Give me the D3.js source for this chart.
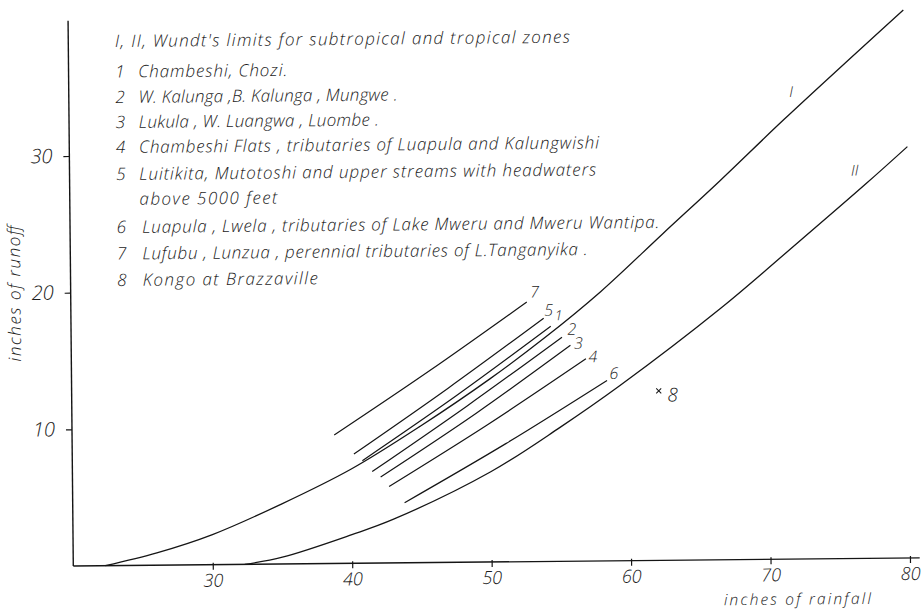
<!DOCTYPE html>
<html>
<head>
<meta charset="utf-8">
<script src="https://cdn.jsdelivr.net/npm/d3@7"></script>
<style>
  html, body { margin: 0; padding: 0; background: #fff; }
  svg { display: block; }
  text { font-family: "Open Sans", "Liberation Sans", sans-serif; font-style: italic; font-weight: 300; fill: #1c1c1c; }
</style>
</head>
<body>
<svg id="chart" width="923" height="611"></svg>
<script>
// Rainfall / runoff relations for Northern Rhodesian rivers, with Wundt's limits.

const rainfallTicks = [30, 40, 50, 60, 70, 80];
const runoffTicks = [10, 20, 30];

// Wundt's limiting curves (inches of rainfall -> inches of runoff)
const limitNames = ["I", "II"];
const limitRainfall = [
  [22.3, 26, 30, 35, 40, 45, 50, 54, 58, 62.5, 66.6, 71.3, 79.9],
  [32.3, 35, 40, 43, 50, 55, 59.3, 66.6, 72, 77.2, 80.1]
];
const limitRunoff = [
  [0, 0.9, 2.2, 4.4, 6.9, 10.0, 13.4, 16.4, 19.7, 23.9, 27.7, 32.2, 40.1],
  [0, 0.5, 2.1, 3.2, 6.6, 9.8, 12.8, 18.4, 23.0, 27.5, 30.1]
];

// River groups
const groupIds = ["7", "5", "1", "2", "3", "4", "6"];
const groupRainfall = [
  [38.8, 45.7, 52.7],
  [40.2, 47.0, 53.9],
  [40.8, 47.6, 54.4],
  [41.5, 48.3, 55.2],
  [42.1, 49.0, 55.8],
  [42.7, 49.8, 56.9],
  [43.8, 51.1, 58.4]
];
const groupRunoff = [
  [9.4, 14.05, 19.0],
  [8.0, 12.75, 17.8],
  [7.5, 12.2, 17.2],
  [6.7, 11.4, 16.4],
  [6.3, 10.9, 15.8],
  [5.6, 10.05, 14.8],
  [4.4, 8.65, 13.2]
];

// Single station: Kongo at Brazzaville
const kongoRainfall = 62.1;
const kongoRunoff = 12.4;

const legendTitle = "I, II, Wundt's limits for subtropical  and tropical zones";
const legendKeys = ["1", "2", "3", "4", "5", "", "6", "7", "8"];
const legendTexts = [
  "Chambeshi, Chozi.",
  "W. Kalunga ,B. Kalunga , Mungwe .",
  "Lukula , W. Luangwa , Luombe .",
  "Chambeshi Flats , tributaries  of Luapula  and  Kalungwishi",
  "Luitikita, Mutotoshi  and upper streams  with headwaters",
  "above  5000  feet",
  "Luapula , Lwela , tributaries  of Lake Mweru  and  Mweru Wantipa.",
  "Lufubu , Lunzua , perennial  tributaries of L.Tanganyika .",
  "Kongo  at Brazzaville"
];

const svg = d3.select("#chart");

const x0 = 73.3, y0 = 566;
const x = d3.scaleLinear().domain([20, 80]).range([x0, 910]);
const y = d3.scaleLinear().domain([0, 30]).range([y0, 156]);

// the whole sheet sits at a slight tilt
const g = svg.append("g").attr("transform", `rotate(-0.55, ${x0}, ${y0})`);

const ink = "#151515";

// axes
const xAxis = d3.axisBottom(x).tickValues(rainfallTicks).tickSize(5).tickPadding(3).tickFormat(d3.format("d"));
const gx = g.append("g").attr("transform", `translate(0,${y0})`).call(xAxis);
gx.select(".domain").remove();
gx.selectAll(".tick line").attr("stroke", ink).attr("stroke-width", 1.2).attr("y1", -2);
gx.selectAll(".tick text").attr("font-size", 18).attr("fill", "#1c1c1c").attr("dy", "0.78em")
  .style("font-family", "'Open Sans', sans-serif").style("font-style", "italic").style("font-weight", 300);

const yAxis = d3.axisLeft(y).tickValues(runoffTicks).tickSize(6).tickPadding(11).tickFormat(d3.format("d"));
const gy = g.append("g").attr("transform", `translate(${x0},0)`).call(yAxis);
gy.select(".domain").remove();
gy.selectAll(".tick line").attr("stroke", ink).attr("stroke-width", 1.2);
gy.selectAll(".tick text").attr("font-size", 20).attr("fill", "#1c1c1c")
  .style("font-family", "'Open Sans', sans-serif").style("font-style", "italic").style("font-weight", 300);

g.append("line").attr("x1", x(20)).attr("x2", x(80.7)).attr("y1", y(0)).attr("y2", y(0))
  .attr("stroke", ink).attr("stroke-width", 1.4);
g.append("line").attr("x1", x(20)).attr("x2", x(20)).attr("y1", y(0)).attr("y2", y(39.9))
  .attr("stroke", ink).attr("stroke-width", 1.4);

// axis titles
g.append("text").attr("x", 797).attr("y", y0 + 45.5).attr("text-anchor", "middle")
  .attr("font-size", 15.5).attr("fill", "#333").attr("textLength", 147).attr("lengthAdjust", "spacing")
  .text("inches of rainfall");
g.append("text").attr("transform", `translate(23,293) rotate(-90)`).attr("text-anchor", "middle")
  .attr("font-size", 17).attr("fill", "#333").attr("textLength", 136).attr("lengthAdjust", "spacing")
  .text("inches of runoff");

const line = d3.line().x(d => x(d[0])).y(d => y(d[1])).curve(d3.curveCatmullRom.alpha(0.5));

// Wundt's limits
limitNames.forEach((name, i) => {
  const pts = d3.zip(limitRainfall[i], limitRunoff[i]);
  g.append("path").attr("d", line(pts)).attr("fill", "none").attr("stroke", ink).attr("stroke-width", 1.3);
});
g.append("text").attr("x", x(71.8)).attr("y", y(34.2)).attr("dy", "0.35em").attr("text-anchor", "middle")
  .attr("font-size", 15).text("I");
g.append("text").attr("x", x(76.3)).attr("y", y(28.4)).attr("dy", "0.35em").attr("text-anchor", "middle")
  .attr("font-size", 15).text("II");

// river group lines with their numbers
const labelOffsets = { "7": [8, -10], "5": [5, -8], "1": [8, -11], "2": [10, -8], "3": [8, -2], "4": [7, -2], "6": [7, -7] };
groupIds.forEach((id, i) => {
  const pts = d3.zip(groupRainfall[i], groupRunoff[i]);
  g.append("path").attr("d", line(pts)).attr("fill", "none").attr("stroke", ink).attr("stroke-width", 1.2);
  const end = pts[pts.length - 1];
  const off = labelOffsets[id];
  g.append("text").attr("x", x(end[0]) + off[0]).attr("y", y(end[1]) + off[1]).attr("dy", "0.35em")
    .attr("text-anchor", "middle").attr("font-size", id === "1" ? 14 : 16).text(id);
});

// Kongo point
const kx = x(kongoRainfall), ky = y(kongoRunoff);
g.append("path").attr("d", `M${kx - 2.5},${ky - 2.5}L${kx + 2.5},${ky + 2.5}M${kx - 2.5},${ky + 2.5}L${kx + 2.5},${ky - 2.5}`)
  .attr("stroke", ink).attr("stroke-width", 1);
g.append("text").attr("x", kx + 14).attr("y", ky + 4).attr("dy", "0.35em").attr("text-anchor", "middle")
  .attr("font-size", 19).text("8");

// key
const legend = g.append("g").attr("font-size", 17);
legend.append("text").attr("x", 120).attr("y", 47.5).attr("textLength", 455).attr("lengthAdjust", "spacing")
  .text(legendTitle);
const legendBaselines = [78, 103.5, 128.5, 153.5, 180.5, 205.5, 233.5, 260, 286.5];
const legendWidths = [149, 259, 240, 460, 457, 138, 517, 445, 175];
legendTexts.forEach((t, i) => {
  const later = i >= 6;
  legend.append("text").attr("x", 120).attr("y", legendBaselines[i]).text(legendKeys[i]);
  legend.append("text").attr("x", later ? 145.5 : 143).attr("y", legendBaselines[i])
    .attr("textLength", legendWidths[i]).attr("lengthAdjust", "spacing").text(t);
});
</script>
</body>
</html>
